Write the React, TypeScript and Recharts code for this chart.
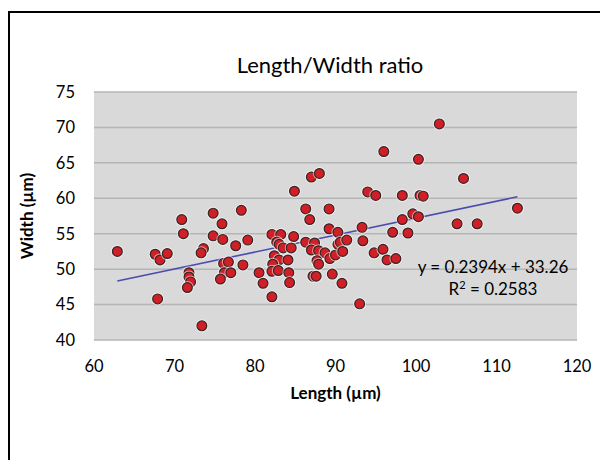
import { ScatterChart, Scatter, XAxis, YAxis, CartesianGrid, ReferenceLine, Label } from 'recharts'

// measured lengths (µm)
const lengths = [
    62.9, 67.9, 67.6, 68.2, 69.1, 70.9, 71.1, 71.8, 71.8, 72.0, 71.6, 73.4, 73.6, 73.3, 74.8,
    75.9, 74.8, 76.0, 78.3, 77.6, 79.1, 76.1, 76.7, 76.2, 77.0, 75.7, 78.5, 80.5, 81.0,
    86.3, 89.2, 86.8, 82.1, 83.2, 84.8, 82.7, 83.0, 83.5, 84.5, 82.4, 83.0, 84.1, 82.2,
    82.1, 82.9, 84.2, 84.3, 82.1, 86.3, 87.4, 87.0, 87.9, 88.7, 87.7, 87.9, 89.3, 90.0,
    89.2, 90.3, 90.3, 90.6, 90.9, 91.4, 87.2, 87.6, 89.6, 90.8, 93.0, 93.3, 93.4, 94.8,
    95.9, 96.4, 97.5, 97.1, 99.0, 98.3, 99.6, 100.3, 112.6, 105.1, 107.6, 96.0, 100.3,
    87.0, 88.0, 84.9, 94.0, 95.0, 98.3, 100.5, 100.9, 102.9, 105.9
]

// measured widths (µm), same order as lengths
const widths = [
    52.5, 45.8, 52.1, 51.3, 52.2, 57.0, 55.0, 49.5, 48.9, 48.2, 47.4, 42.0, 52.9, 52.3, 57.9,
    56.4, 54.7, 54.2, 58.3, 53.3, 54.1, 50.8, 51.0, 49.5, 49.5, 48.6, 50.6, 49.5, 48.0,
    58.5, 58.5, 57.0, 54.9, 54.9, 54.6, 53.8, 53.5, 53.0, 53.0, 51.9, 51.3, 51.3, 50.7,
    49.7, 49.8, 49.5, 48.1, 46.1, 53.8, 53.7, 52.7, 52.6, 52.3, 51.2, 50.7, 51.5, 52.0,
    55.7, 55.2, 53.5, 53.8, 52.5, 54.1, 49.0, 49.0, 49.3, 48.0, 45.1, 55.9, 54.0, 52.3,
    52.8, 51.3, 51.5, 55.2, 55.1, 57.0, 57.8, 57.4, 58.6, 56.4, 56.4, 66.6, 65.5,
    63.0, 63.5, 61.0, 60.9, 60.4, 60.4, 60.4, 60.3, 70.5, 62.8
]

const xTicks = [60, 70, 80, 90, 100, 110, 120]
const yTicks = [40, 45, 50, 55, 60, 65, 70, 75]

// linear trend shown on the chart
const trendSlope = 0.2394
const trendIntercept = 33.26
const trendRange = [62.9, 112.6]

const points = lengths.map((x, i) => ({ x, y: widths[i] }))
const trendY = (x: number) => trendSlope * x + trendIntercept

const font = 'Lato, "Open Sans", sans-serif'

const RedDot = (props: any) => {
    const { cx, cy } = props
    if (cx == null || cy == null) return null
    return (
        <g>
            <circle cx={cx} cy={cy} r={6.5} fill="#ffffff" fillOpacity={0.55} />
            <circle cx={cx} cy={cy} r={4.9} fill="#d01f26" stroke="#3b2424" strokeWidth={1.2} />
        </g>
    )
}

export default function App() {
    return (
        <div style={{ position: 'absolute', left: 0, top: 0, width: 600, height: 460, overflow: 'hidden', background: '#fff', fontFamily: font }}>
            <div style={{ position: 'absolute', left: 8, top: 11, width: 700, height: 600, border: '2px solid #000' }} />
            <div style={{ position: 'absolute', left: 0, width: 660, top: 51, textAlign: 'center', fontSize: 22, color: '#000' }}>
                Length/Width ratio
            </div>
            <ScatterChart width={600} height={460} margin={{ top: 92, right: 23, bottom: 90, left: 0 }} style={{ position: 'absolute', left: 0, top: 0 }}>
                <CartesianGrid horizontal vertical={false} fill="#d9d9d9" stroke="#b5b5b5" strokeWidth={1.5} />
                <XAxis type="number" dataKey="x" domain={[60, 120]} ticks={xTicks} axisLine={false} tickLine={false} tickSize={0} tickMargin={20} height={30}
                    tick={{ fill: '#000', fontSize: 16.5, fontFamily: font }} interval={0}>
                    <Label value="Length (µm)" position="insideBottom" offset={-29} style={{ fontWeight: 700, fontSize: 17, fill: '#000', fontFamily: font }} />
                </XAxis>
                <YAxis type="number" dataKey="y" domain={[40, 75]} ticks={yTicks} axisLine={false} tickLine={false} tickSize={0} tickMargin={19} width={94}
                    tick={{ fill: '#000', fontSize: 16.5, fontFamily: font }} interval={0}>
                    <Label value="Width (µm)" angle={-90} position="insideLeft" offset={27} style={{ fontWeight: 700, fontSize: 17, fill: '#000', fontFamily: font, textAnchor: 'middle' }} />
                </YAxis>
                <ReferenceLine
                    segment={[
                        { x: trendRange[0], y: trendY(trendRange[0]) },
                        { x: trendRange[1], y: trendY(trendRange[1]) }
                    ]}
                    stroke="#4b4bb0"
                    strokeWidth={1.6}
                />
                <Scatter data={points} shape={RedDot} isAnimationActive={false} />
            </ScatterChart>
            <div style={{ position: 'absolute', left: 398, width: 190, top: 256, textAlign: 'center', fontSize: 17, lineHeight: '22px', color: '#000' }}>
                y = 0.2394x + 33.26
                <br />
                R<sup style={{ fontSize: 11, verticalAlign: 'top', lineHeight: '14px' }}>2</sup> = 0.2583
            </div>
        </div>
    )
}
